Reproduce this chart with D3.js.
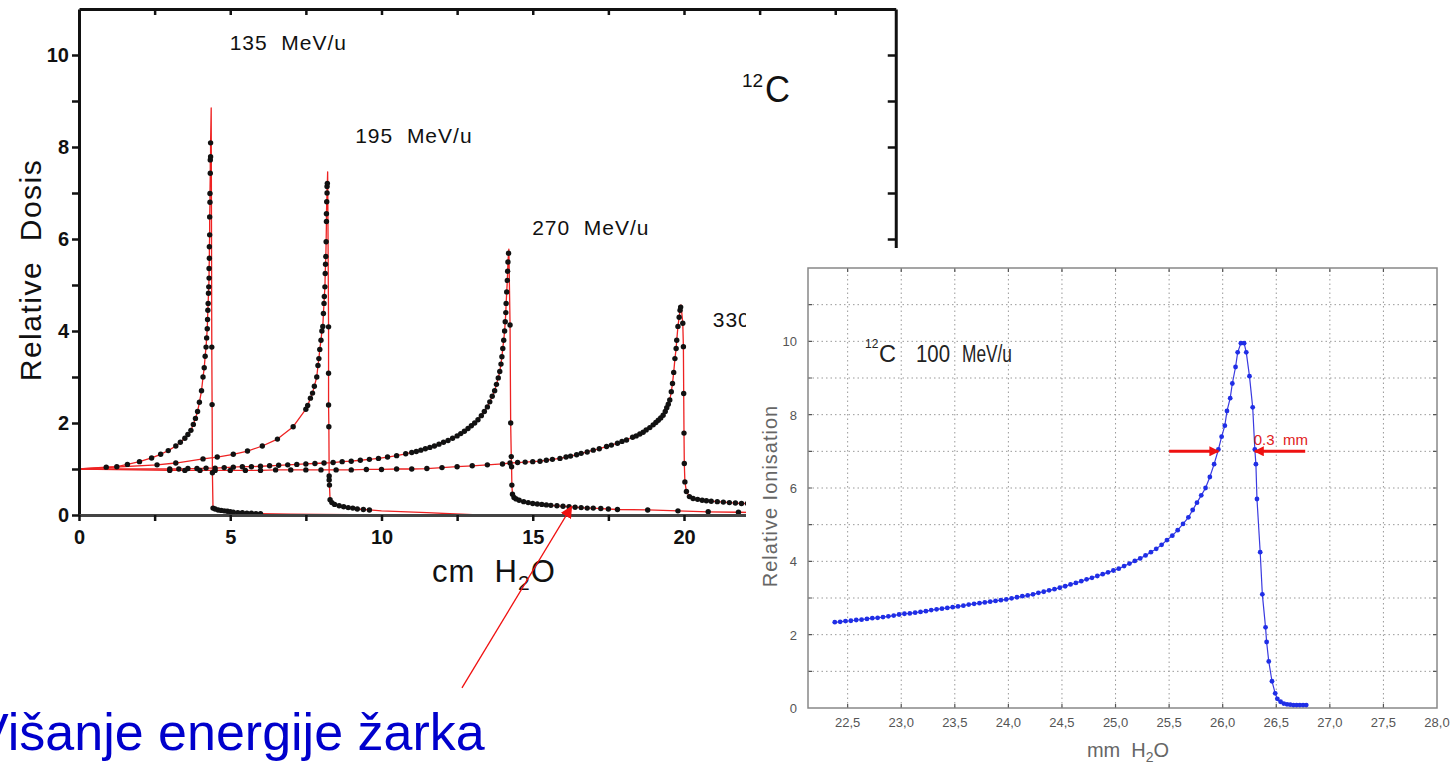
<!DOCTYPE html>
<html>
<head>
<meta charset="utf-8">
<script src="https://cdn.jsdelivr.net/npm/d3@7"></script>
<style>
  body { margin: 0; background: #fff; }
  svg { display: block; }
</style>
</head>
<body>
<svg id="chart" width="1453" height="767"></svg>
<script>

// ---- left chart: Bragg curves in water, 12C ions (cm H2O vs relative dose) ----
const energies = ['135', '195', '270', '330'];

const c135Rise = [[0.9,1.04],[1.25,1.05],[1.6,1.1],[2.0,1.16],[2.4,1.24],[2.7,1.32],[2.95,1.4],[3.2,1.5],[3.35,1.58],[3.5,1.67],[3.6,1.75],[3.7,1.84],[3.78,1.97],[3.85,2.1],[3.92,2.25],[3.98,2.45],[4.05,2.7],[4.1,3.0],[4.14,3.2],[4.17,3.45],[4.2,3.65],[4.22,3.85],[4.24,4.05],[4.25,4.25],[4.26,4.45],[4.27,4.6],[4.28,4.82],[4.29,4.96],[4.3,5.15],[4.3,5.36],[4.31,5.58],[4.31,5.83],[4.32,6.09],[4.32,6.48],[4.33,6.8],[4.33,6.99],[4.34,7.43],[4.34,7.72],[4.35,7.79],[4.35,8.09]];
const c135Peak = [4.37, 8.85];
const c135Fall = [[4.39,3.65],[4.4,2.4],[4.41,0.92],[4.43,0.15],[4.5,0.13],[4.6,0.11],[4.7,0.1],[4.8,0.09],[4.9,0.08],[5.0,0.07],[5.1,0.06],[5.25,0.05],[5.4,0.05],[5.55,0.04],[5.7,0.04],[5.85,0.03],[6.0,0.03]];
const c135Tail = [[7.0,0.02],[9.0,0.01],[11.0,0.0]];

const c195Rise = [[2.58,1.09],[3.2,1.13],[4.1,1.22],[4.57,1.26],[5.1,1.32],[5.57,1.39],[6.06,1.5],[6.56,1.65],[7.08,1.92],[7.5,2.3],[7.56,2.38],[7.65,2.54],[7.72,2.65],[7.78,2.8],[7.86,3.0],[7.9,3.25],[7.93,3.4],[7.96,3.6],[8.0,3.8],[8.03,4.0],[8.06,4.1],[8.08,4.38],[8.1,4.6],[8.11,4.75],[8.13,4.96],[8.14,5.25],[8.15,5.45],[8.16,5.62],[8.17,5.94],[8.18,6.38],[8.18,6.55],[8.19,6.81],[8.2,7.0],[8.2,7.14],[8.21,7.21]];
const c195Peak = [8.22, 7.46];
const c195Fall = [[8.25,4.09],[8.25,3.08],[8.25,2.39],[8.26,1.92],[8.27,0.85],[8.27,0.76],[8.28,0.65],[8.3,0.33],[8.36,0.27],[8.45,0.23],[8.6,0.2],[8.75,0.18],[8.9,0.16],[9.05,0.15],[9.2,0.13],[9.4,0.12],[9.6,0.11]];
const c195Tail = [[10.0,0.09],[11.5,0.05],[13.2,0.0]];

const c270Rise = [[3.0,1.0],[3.3,1.0],[3.6,1.01],[3.9,1.01],[4.2,1.02],[4.5,1.02],[4.8,1.03],[5.1,1.04],[5.4,1.05],[5.7,1.05],[6.0,1.06],[6.3,1.07],[6.6,1.08],[6.9,1.09],[7.2,1.1],[7.5,1.11],[7.8,1.12],[8.1,1.13],[8.4,1.14],[8.7,1.16],[9.0,1.17],[9.3,1.19],[9.6,1.21],[9.9,1.23],[10.2,1.26],[10.5,1.29],[10.8,1.33],[11.0,1.36],[11.15,1.38],[11.3,1.41],[11.45,1.44],[11.6,1.47],[11.75,1.5],[11.9,1.54],[12.05,1.58],[12.2,1.62],[12.35,1.67],[12.5,1.72],[12.62,1.77],[12.74,1.82],[12.86,1.88],[12.97,1.94],[13.08,2.0],[13.19,2.07],[13.3,2.16],[13.4,2.25],[13.5,2.35],[13.58,2.46],[13.66,2.58],[13.74,2.7],[13.8,2.84],[13.86,2.98],[13.91,3.12],[13.95,3.28],[13.98,3.44],[14.01,3.62],[14.04,3.8],[14.07,4.0],[14.09,4.2],[14.11,4.4],[14.12,4.6],[14.14,4.85],[14.16,5.1],[14.17,5.3],[14.18,5.5],[14.2,5.69]];
const c270Peak = [14.21, 5.78];
const c270Fall = [[14.25,4.13],[14.27,2.0],[14.29,1.27],[14.3,1.05],[14.31,0.65],[14.33,0.45],[14.38,0.38],[14.45,0.35],[14.55,0.32],[14.7,0.29],[14.85,0.27],[15.0,0.25],[15.15,0.24],[15.3,0.23],[15.45,0.22],[15.6,0.21],[15.8,0.2],[16.0,0.19],[16.2,0.18],[16.4,0.17],[16.6,0.16],[16.8,0.15],[17.0,0.15],[17.25,0.14],[17.5,0.13],[17.8,0.12],[18.8,0.11],[19.8,0.09],[20.8,0.07],[21.8,0.06]];
const c270Tail = [[23.0,0.05]];

const c330Rise = [[3.0,0.97],[3.5,0.97],[4.0,0.97],[4.5,0.97],[5.0,0.97],[5.5,0.97],[6.0,0.97],[6.5,0.98],[7.0,0.98],[7.5,0.98],[8.0,0.98],[8.5,0.98],[9.0,0.98],[9.5,0.99],[10.0,0.99],[10.5,1.0],[11.0,1.0],[11.5,1.01],[12.0,1.03],[12.5,1.05],[13.0,1.07],[13.5,1.09],[14.0,1.11],[14.25,1.13],[14.5,1.14],[14.75,1.15],[15.0,1.16],[15.24,1.17],[15.45,1.19],[15.65,1.21],[15.9,1.23],[16.1,1.26],[16.25,1.28],[16.45,1.31],[16.6,1.34],[16.8,1.37],[17.0,1.41],[17.2,1.44],[17.44,1.49],[17.6,1.52],[17.8,1.56],[17.95,1.6],[18.1,1.63],[18.3,1.69],[18.42,1.72],[18.54,1.76],[18.65,1.8],[18.75,1.85],[18.87,1.9],[18.98,1.96],[19.07,2.01],[19.15,2.06],[19.23,2.11],[19.31,2.17],[19.38,2.25],[19.43,2.33],[19.48,2.41],[19.53,2.5],[19.58,2.68],[19.62,2.86],[19.66,3.1],[19.7,3.4],[19.74,3.62],[19.76,3.8],[19.8,4.1],[19.84,4.3],[19.87,4.45],[19.89,4.52]];
const c330Peak = [19.9, 4.57];
const c330Fall = [[19.96,4.17],[19.98,3.66],[19.99,2.64],[20.0,1.78],[20.01,1.12],[20.03,0.72],[20.08,0.51],[20.18,0.4],[20.3,0.36],[20.45,0.34],[20.6,0.32],[20.74,0.31],[20.9,0.3],[21.1,0.29],[21.3,0.28],[21.5,0.27],[21.7,0.26],[21.9,0.25],[22.1,0.25]];
const c330Tail = [[23.0,0.23]];

// where every curve starts (entrance dose)
const entrance = [0, 1];
// label anchor per energy, in data units (x cm, y dose)
const energyLabelPos = [[4.98, 10.1], [9.13, 8.08], [14.98, 6.08], [20.95, 4.08]];
const xTicksL = [0, 2.5, 5, 7.5, 10, 12.5, 15, 17.5, 20, 22.5, 25];
const yTicksL = [0, 1, 2, 3, 4, 5, 6, 7, 8, 9, 10];
// annotation arrow (tail below the axis, tip on the 270 tail)
const bigArrow = [[12.66, -3.76], [16.28, 0.18]];

// ---- right chart: 12C 100 MeV/u, mm H2O vs relative ionisation ----
const ionPoints = [[22.38,2.34],[22.43,2.35],[22.48,2.37],[22.53,2.38],[22.58,2.4],[22.63,2.41],[22.68,2.43],[22.73,2.45],[22.78,2.46],[22.83,2.48],[22.88,2.5],[22.93,2.52],[22.98,2.55],[23.03,2.57],[23.08,2.58],[23.13,2.6],[23.18,2.62],[23.23,2.64],[23.28,2.67],[23.33,2.69],[23.38,2.71],[23.43,2.73],[23.48,2.75],[23.53,2.77],[23.58,2.79],[23.63,2.82],[23.68,2.84],[23.73,2.86],[23.78,2.88],[23.83,2.9],[23.88,2.92],[23.93,2.94],[23.98,2.96],[24.03,2.99],[24.08,3.02],[24.13,3.05],[24.18,3.07],[24.23,3.1],[24.28,3.14],[24.33,3.17],[24.38,3.21],[24.43,3.24],[24.48,3.28],[24.53,3.32],[24.58,3.37],[24.63,3.41],[24.68,3.46],[24.73,3.51],[24.78,3.55],[24.83,3.6],[24.88,3.65],[24.93,3.7],[24.98,3.75],[25.03,3.8],[25.08,3.87],[25.13,3.94],[25.18,4.01],[25.23,4.08],[25.28,4.16],[25.33,4.25],[25.38,4.34],[25.43,4.45],[25.48,4.58],[25.53,4.7],[25.58,4.85],[25.63,5.02],[25.68,5.2],[25.72,5.4],[25.76,5.6],[25.8,5.8],[25.84,6.0],[25.88,6.3],[25.92,6.65],[25.96,7.05],[25.99,7.4],[26.02,7.7],[26.04,8.1],[26.07,8.45],[26.09,8.85],[26.12,9.3],[26.14,9.7],[26.17,9.95],[26.2,9.95],[26.22,9.7],[26.25,9.05],[26.28,8.2],[26.3,7.05],[26.31,6.65],[26.32,5.7],[26.35,4.25],[26.37,3.1],[26.4,2.2],[26.41,1.8],[26.43,1.27],[26.46,0.73],[26.49,0.4],[26.51,0.25],[26.54,0.17],[26.57,0.12],[26.6,0.1],[26.63,0.09],[26.66,0.08],[26.69,0.08],[26.72,0.08],[26.75,0.08],[26.78,0.08]];
const xTicksR = [22.5, 23.0, 23.5, 24.0, 24.5, 25.0, 25.5, 26.0, 26.5, 27.0, 27.5, 28.0];
const yGridR = [1, 2, 3, 4, 5, 6, 7, 8, 9, 10, 11];
const yLabelsR = [0, 2, 4, 6, 8, 10];
// FWHM marker: level 7, arrows from outside towards the two crossings
const fwhmLevel = 7;
const fwhmLeft = [25.5, 25.96];
const fwhmRight = [26.77, 26.3];

const svg = d3.select('#chart');
svg.append('rect').attr('width', 1453).attr('height', 767).attr('fill', '#fff');

const defs = svg.append('defs');
defs.append('marker')
  .attr('id', 'headThin')
  .attr('viewBox', '0 0 10 10').attr('refX', 9).attr('refY', 5)
  .attr('markerWidth', 12).attr('markerHeight', 12)
  .attr('markerUnits', 'userSpaceOnUse')
  .attr('orient', 'auto')
  .append('path').attr('d', 'M0,0L10,5L0,10z').attr('fill', '#f01010');
defs.append('marker')
  .attr('id', 'headThick')
  .attr('viewBox', '0 0 10 10').attr('refX', 9).attr('refY', 5)
  .attr('markerWidth', 12).attr('markerHeight', 10)
  .attr('markerUnits', 'userSpaceOnUse')
  .attr('orient', 'auto')
  .append('path').attr('d', 'M0,0L10,5L0,10z').attr('fill', '#ee1111');

// ================= LEFT CHART =================
const xL = d3.scaleLinear().domain([0, 27]).range([79, 895.75]);
const yL = d3.scaleLinear().domain([0, 11]).range([515, 9]);

const left = svg.append('g').attr('class', 'left');

const curves = [
  {rise: c135Rise, peak: c135Peak, fall: c135Fall, tail: c135Tail},
  {rise: c195Rise, peak: c195Peak, fall: c195Fall, tail: c195Tail},
  {rise: c270Rise, peak: c270Peak, fall: c270Fall, tail: c270Tail},
  {rise: c330Rise, peak: c330Peak, fall: c330Fall, tail: c330Tail}
];

const lineL = d3.line().x(d => xL(d[0])).y(d => yL(d[1]));

left.selectAll('.redline')
  .data(curves)
  .enter().append('path')
  .attr('class', 'redline')
  .attr('d', c => lineL([entrance].concat(c.rise, [c.peak], c.fall, c.tail)))
  .attr('fill', 'none')
  .attr('stroke', '#ee2222')
  .attr('stroke-width', 1.3)
  .attr('stroke-linejoin', 'round');

const allDots = curves.flatMap(c => c.rise.concat(c.fall));
left.selectAll('.dot')
  .data(allDots)
  .enter().append('circle')
  .attr('class', 'dot')
  .attr('cx', d => xL(d[0]))
  .attr('cy', d => yL(d[1]))
  .attr('r', 2.7)
  .attr('fill', '#111');

// axes
const axFont = 'Liberation Sans, Arial, sans-serif';

const gLeftAx = left.append('g')
  .attr('transform', `translate(${xL(0)},0)`)
  .call(d3.axisLeft(yL).tickValues(yTicksL).tickSizeInner(7).tickSizeOuter(0).tickPadding(3)
    .tickFormat(d => d % 2 === 0 ? d : ''));
const gBotAx = left.append('g')
  .attr('transform', `translate(0,${yL(0)})`)
  .call(d3.axisBottom(xL).tickValues(xTicksL).tickSizeInner(6).tickSizeOuter(0).tickPadding(9)
    .tickFormat(d => d % 5 === 0 ? d : ''));
const gTopAx = left.append('g')
  .attr('transform', `translate(0,${yL(11)})`)
  .call(d3.axisTop(xL).tickValues(xTicksL.slice(1)).tickSizeInner(-6).tickSizeOuter(0).tickFormat(''));
const gRightAx = left.append('g')
  .attr('transform', `translate(${xL(27)},0)`)
  .call(d3.axisRight(yL).tickValues(yTicksL).tickSizeInner(-8).tickSizeOuter(0).tickFormat(''));

[gLeftAx, gBotAx, gTopAx, gRightAx].forEach(g => {
  g.select('.domain').attr('stroke', '#111').attr('stroke-width', 3);
  g.selectAll('.tick line').attr('stroke', '#111').attr('stroke-width', 2.5);
  g.selectAll('.tick text')
    .attr('fill', '#111')
    .style('font-family', axFont)
    .style('font-size', '20px')
    .style('font-weight', 'bold');
});
gBotAx.select('.domain').attr('stroke', '#444');

// energy labels
left.selectAll('.elabel')
  .data(energies)
  .enter().append('text')
  .attr('class', 'elabel')
  .attr('x', (d, i) => xL(energyLabelPos[i][0]))
  .attr('y', (d, i) => yL(energyLabelPos[i][1]))
  .attr('xml:space', 'preserve')
  .style('font-family', axFont)
  .style('font-size', '21px')
  .style('letter-spacing', '1px')
  .attr('fill', '#111')
  .text(d => d + '  MeV/u');

// 12C label
left.append('text')
  .attr('x', 742).attr('y', 87)
  .style('font-family', axFont).style('font-size', '19px').attr('fill', '#111')
  .text('12');
left.append('text')
  .attr('x', 765).attr('y', 102)
  .style('font-family', axFont).style('font-size', '37px').attr('fill', '#111')
  .attr('textLength', 25).attr('lengthAdjust', 'spacingAndGlyphs')
  .text('C');

// axis titles
left.append('text')
  .attr('transform', 'translate(41,270) rotate(-90)')
  .attr('text-anchor', 'middle')
  .attr('xml:space', 'preserve')
  .style('font-family', axFont).style('font-size', '30px').style('letter-spacing', '1.5px')
  .attr('fill', '#111')
  .text('Relative  Dosis');

const xTitle = left.append('text')
  .attr('x', 432).attr('y', 582)
  .attr('xml:space', 'preserve')
  .style('font-family', axFont).style('font-size', '31px').style('letter-spacing', '1px')
  .attr('fill', '#111');
xTitle.append('tspan').text('cm  H');
xTitle.append('tspan').attr('dy', 8).style('font-size', '21px').text('2');
xTitle.append('tspan').attr('dy', -8).text('O');

// the right-hand picture sits on top of the left chart
svg.append('rect')
  .attr('x', 746).attr('y', 248)
  .attr('width', 707).attr('height', 519)
  .attr('fill', '#fff');

// ================= RIGHT CHART =================
const xR = d3.scaleLinear().domain([22.13, 28.0]).range([808, 1437]);
const yR = d3.scaleLinear().domain([0, 12]).range([708, 268]);

const right = svg.append('g').attr('class', 'right');

right.selectAll('.vgrid')
  .data(xTicksR.slice(0, -1))
  .enter().append('line')
  .attr('x1', d => xR(d)).attr('x2', d => xR(d))
  .attr('y1', yR(0)).attr('y2', yR(12))
  .attr('stroke', '#999').attr('stroke-width', 1).attr('stroke-dasharray', '1.5,3');
right.selectAll('.hgrid')
  .data(yGridR)
  .enter().append('line')
  .attr('x1', xR(22.13)).attr('x2', xR(28))
  .attr('y1', d => yR(d)).attr('y2', d => yR(d))
  .attr('stroke', '#999').attr('stroke-width', 1).attr('stroke-dasharray', '1.5,3');

// small inward ticks on the frame
right.selectAll('.tkb')
  .data(xTicksR.slice(0, -1))
  .enter().append('path')
  .attr('d', d => `M${xR(d)},${yR(0)}v-4M${xR(d)},${yR(12)}v4`)
  .attr('stroke', '#555').attr('stroke-width', 1.2);
right.selectAll('.tkl')
  .data(yGridR)
  .enter().append('path')
  .attr('d', d => `M${xR(22.13)},${yR(d)}h4M${xR(28)},${yR(d)}h-4`)
  .attr('stroke', '#555').attr('stroke-width', 1.2);

right.append('rect')
  .attr('x', xR(22.13)).attr('y', yR(12))
  .attr('width', xR(28) - xR(22.13)).attr('height', yR(0) - yR(12))
  .attr('fill', 'none').attr('stroke', '#888').attr('stroke-width', 1.5);

const rFont = 'Liberation Sans, Arial, sans-serif';
right.selectAll('.xlab')
  .data(xTicksR)
  .enter().append('text')
  .attr('x', d => xR(d)).attr('y', 727)
  .attr('text-anchor', 'middle')
  .style('font-family', rFont).style('font-size', '13px')
  .attr('fill', '#555')
  .text(d => d.toFixed(1).replace('.', ','));
right.selectAll('.ylab')
  .data(yLabelsR)
  .enter().append('text')
  .attr('x', 797).attr('y', d => yR(d) + 5)
  .attr('text-anchor', 'end')
  .style('font-family', rFont).style('font-size', '13px')
  .attr('fill', '#555')
  .text(d => d);

right.append('text')
  .attr('transform', 'translate(777,496) rotate(-90)')
  .attr('text-anchor', 'middle')
  .style('font-family', rFont).style('font-size', '20px').style('letter-spacing', '1px')
  .attr('fill', '#666')
  .text('Relative Ionisation');

const mmTitle = right.append('text')
  .attr('x', 1128).attr('y', 757)
  .attr('text-anchor', 'middle')
  .attr('xml:space', 'preserve')
  .style('font-family', rFont).style('font-size', '20px')
  .attr('fill', '#666');
mmTitle.append('tspan').text('mm  H');
mmTitle.append('tspan').attr('dy', 5).style('font-size', '14px').text('2');
mmTitle.append('tspan').attr('dy', -5).text('O');

// 12C 100 MeV/u
right.append('text')
  .attr('x', 865).attr('y', 348)
  .style('font-family', rFont).style('font-size', '12px').attr('fill', '#222')
  .text('12');
right.append('text')
  .attr('x', 879).attr('y', 362)
  .style('font-family', rFont).style('font-size', '24px').attr('fill', '#222')
  .attr('textLength', 17).attr('lengthAdjust', 'spacingAndGlyphs')
  .text('C');
right.append('text')
  .attr('x', 916).attr('y', 362)
  .style('font-family', rFont).style('font-size', '23px').attr('fill', '#222')
  .attr('textLength', 34).attr('lengthAdjust', 'spacingAndGlyphs')
  .text('100');
right.append('text')
  .attr('x', 962).attr('y', 362)
  .style('font-family', rFont).style('font-size', '23px').attr('fill', '#222')
  .attr('textLength', 50).attr('lengthAdjust', 'spacingAndGlyphs')
  .text('MeV/u');

// curve
const lineR = d3.line().x(d => xR(d[0])).y(d => yR(d[1]));
right.append('path')
  .attr('d', lineR(ionPoints))
  .attr('fill', 'none')
  .attr('stroke', '#3a3ae0')
  .attr('stroke-width', 1.2);
right.selectAll('.ion')
  .data(ionPoints)
  .enter().append('circle')
  .attr('cx', d => xR(d[0]))
  .attr('cy', d => yR(d[1]))
  .attr('r', 2.4)
  .attr('fill', '#1f2ee6');

// FWHM arrows
[fwhmLeft, fwhmRight].forEach(a => {
  right.append('line')
    .attr('x1', xR(a[0])).attr('x2', xR(a[1]))
    .attr('y1', yR(fwhmLevel)).attr('y2', yR(fwhmLevel))
    .attr('stroke', '#ee1111').attr('stroke-width', 3)
    .attr('marker-end', 'url(#headThick)');
});
right.append('text')
  .attr('x', xR(26.29)).attr('y', yR(fwhmLevel) - 6)
  .style('font-family', rFont).style('font-size', '15px')
  .attr('fill', '#e02020')
  .attr('xml:space', 'preserve')
  .text('0.3  mm');

// ================= annotation =================
svg.append('line')
  .attr('x1', xL(bigArrow[0][0])).attr('y1', yL(bigArrow[0][1]))
  .attr('x2', xL(bigArrow[1][0])).attr('y2', yL(bigArrow[1][1]))
  .attr('stroke', '#f01010').attr('stroke-width', 1.3)
  .attr('marker-end', 'url(#headThin)');

svg.append('text')
  .attr('x', -26).attr('y', 750)
  .style('font-family', 'Liberation Sans, Arial, sans-serif')
  .style('font-size', '52px')
  .attr('fill', '#0000cc')
  .text('Višanje energije žarka');

</script>
</body>
</html>
